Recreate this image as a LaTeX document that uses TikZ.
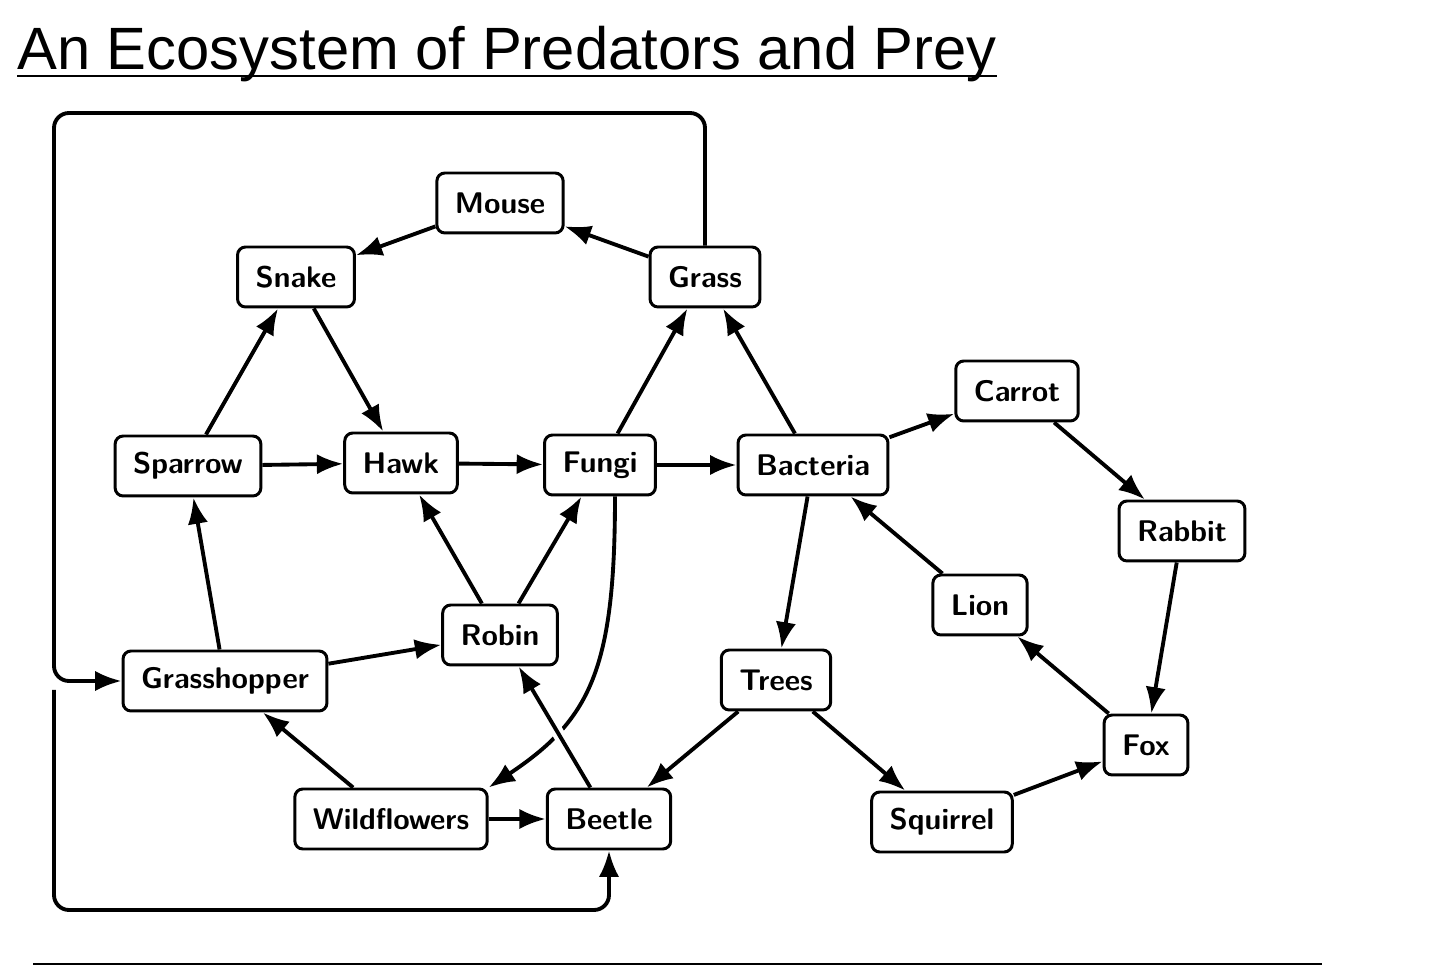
\documentclass[tikz,border=0pt]{standalone}
\usepackage{fontspec}
\usepackage{tikz}
\usetikzlibrary{arrows.meta}
\newfontfamily\titlefont{Liberation Sans}

\begin{document}
\begin{tikzpicture}[x=0.02cm,y=-0.02cm,
	animal/.style={draw,line width=1.7pt,rounded corners=0.16cm,minimum height=1.2cm,inner xsep=0.36cm,font=\fontsize{17}{20}\selectfont\sffamily\bfseries},
	eat/.style={line width=2.2pt,-{Latex[length=15pt,width=11.5pt]}},
	halo/.style={white,line width=7pt,shorten <=1.1cm,shorten >=1.1cm}]
\useasboundingbox (0,0) rectangle (1434,972);
		\node[anchor=base west,inner sep=0pt,font=\titlefont\fontsize{34}{40}\selectfont] (title) at (17,70) {An Ecosystem of Predators and Prey};
		\draw[line width=1.6pt] ([yshift=-0.12cm]title.base west) -- ([yshift=-0.12cm]title.base east);
		\draw[line width=1.6pt] (33,964) -- (1322,964);
		\node[animal] (mouse) at (500,203) {Mouse};
		\node[animal] (snake) at (296,277) {Snake};
		\node[animal] (grass) at (705,277) {Grass};
		\node[animal] (carrot) at (1017,391) {Carrot};
		\node[animal] (sparrow) at (188,466) {Sparrow};
		\node[animal] (hawk) at (401,463) {Hawk};
		\node[animal] (fungi) at (600,465) {Fungi};
		\node[animal] (bacteria) at (813,465) {Bacteria};
		\node[animal] (rabbit) at (1182,531) {Rabbit};
		\node[animal] (lion) at (980,605) {Lion};
		\node[animal] (robin) at (500,635) {Robin};
		\node[animal] (grasshopper) at (225,681) {Grasshopper};
		\node[animal] (trees) at (776,680) {Trees};
		\node[animal] (fox) at (1146,745) {Fox};
		\node[animal] (wildflowers) at (391,819) {Wildflowers};
		\node[animal] (beetle) at (609,819) {Beetle};
		\node[animal] (squirrel) at (942,822) {Squirrel};
		\coordinate (topleft) at (54,113);
		\coordinate (split) at (54,690);
		\draw[eat] (grass) -- (mouse);
		\draw[eat] (mouse) -- (snake);
		\draw[eat] (sparrow) -- (snake);
		\draw[eat] (snake) -- (hawk);
		\draw[eat] (sparrow) -- (hawk);
		\draw[eat] (hawk) -- (fungi);
		\draw[eat] (fungi) -- (grass);
		\draw[eat] (fungi) -- (bacteria);
		\draw[eat] (bacteria) -- (grass);
		\draw[eat] (bacteria) -- (carrot);
		\draw[eat] (carrot) -- (rabbit);
		\draw[eat] (rabbit) -- (fox);
		\draw[eat] (fox) -- (lion);
		\draw[eat] (lion) -- (bacteria);
		\draw[eat] (bacteria) -- (trees);
		\draw[eat] (trees) -- (beetle);
		\draw[eat] (trees) -- (squirrel);
		\draw[eat] (squirrel) -- (fox);
		\draw[eat] (robin) -- (hawk);
		\draw[eat] (robin) -- (fungi);
		\draw[eat] (grasshopper) -- (robin);
		\draw[eat] (grasshopper) -- (sparrow);
		\draw[eat] (wildflowers) -- (grasshopper);
		\draw[eat] (wildflowers) -- (beetle);
		\draw[eat] ([xshift=0.3cm]fungi.south) .. controls (615,670) and (590,720) .. (wildflowers.north east);
		\draw[halo] (beetle) -- (robin);
		\draw[eat] (beetle) -- (robin);
		% loops round the left side
		\draw[eat,rounded corners=0.3cm] (grass.north) |- (topleft) |- (grasshopper.west);
		\draw[eat,rounded corners=0.3cm] (split) -- (54,910) -| (beetle.south);
\end{tikzpicture}
\end{document}
